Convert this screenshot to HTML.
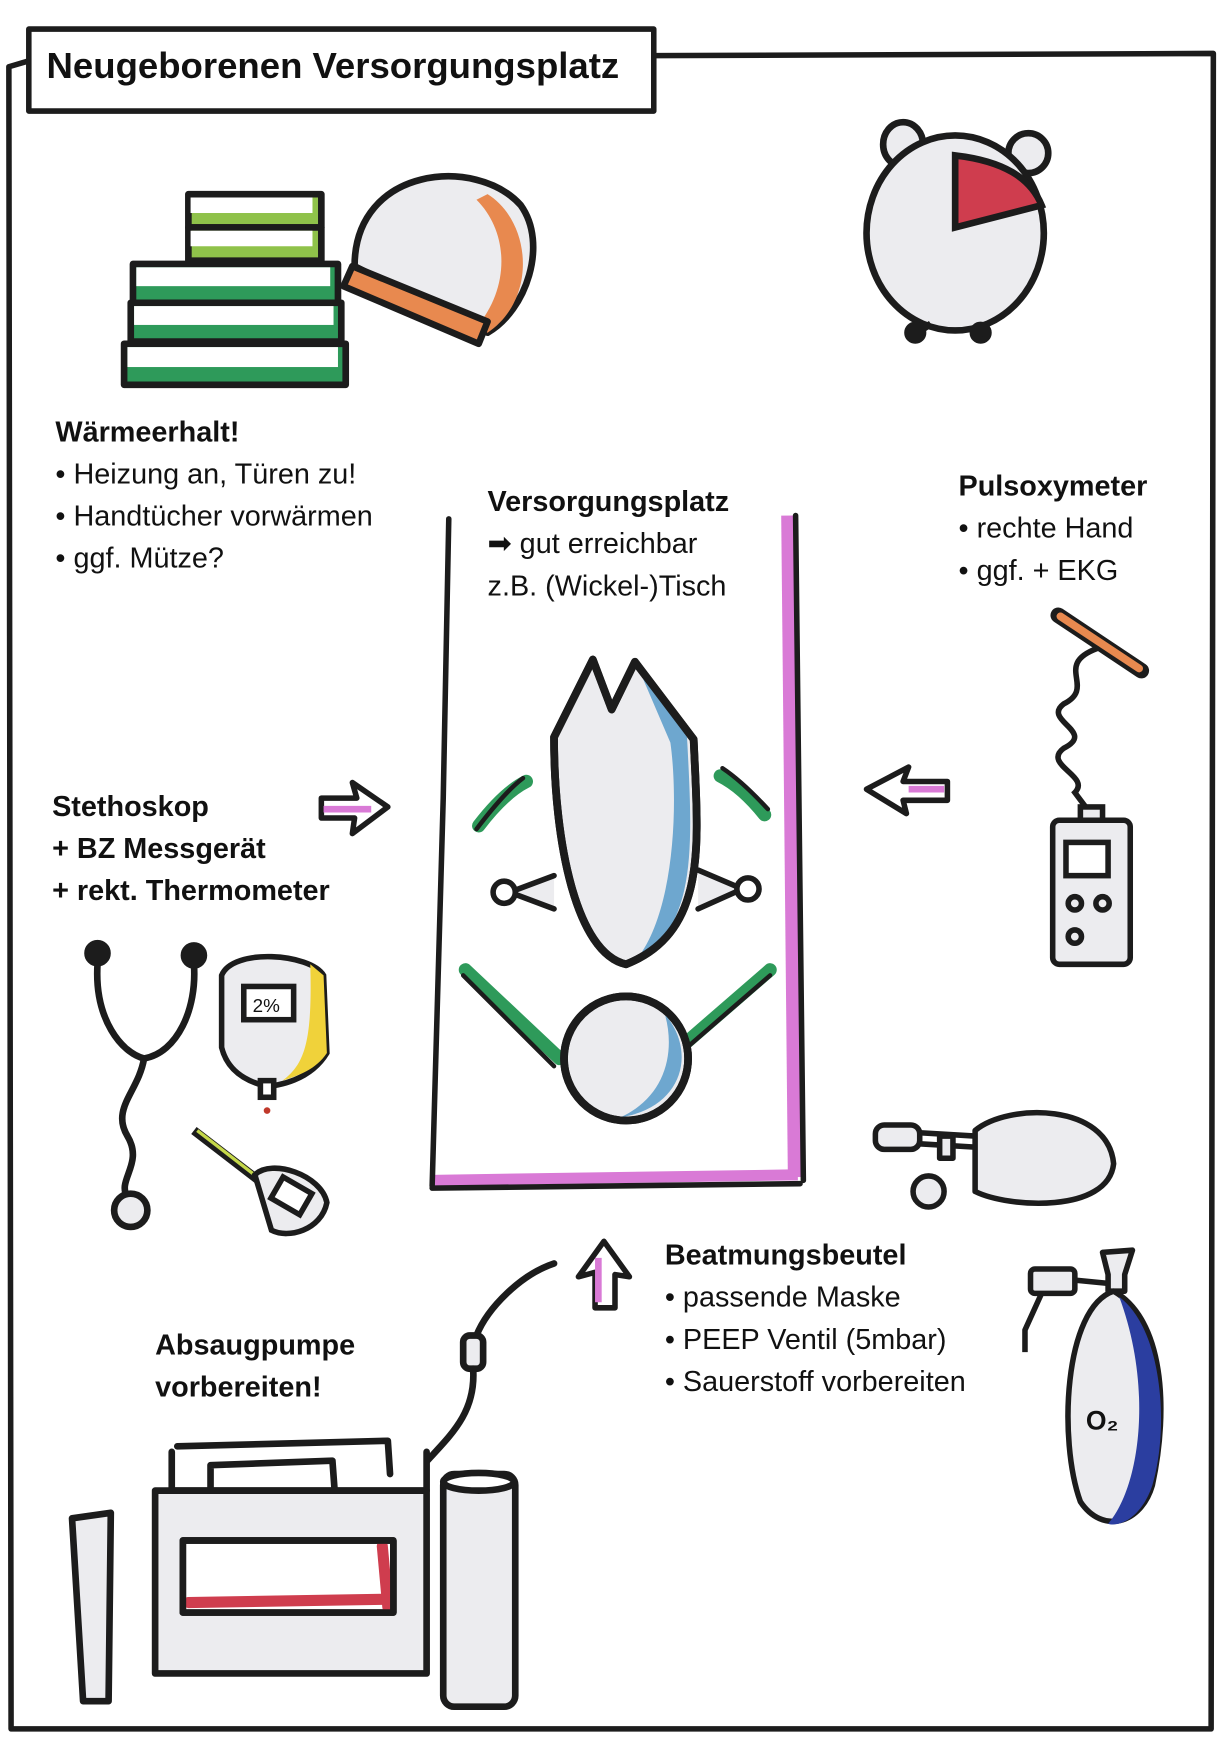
<!DOCTYPE html>
<html><head><meta charset="utf-8"><style>
html,body{margin:0;padding:0;background:#fff;width:1220px;height:1738px;overflow:hidden}
svg{display:block}
text{font-family:"Liberation Sans",sans-serif;fill:#111}
.b{font-weight:bold;font-size:26px}
.n{font-size:26px}
</style></head><body>
<svg width="1220" height="1738" viewBox="0 0 1101 1568" xmlns="http://www.w3.org/2000/svg">
<g fill="none" stroke="#1c1c1c" stroke-width="5" stroke-linecap="round" stroke-linejoin="round">
<path d="M25 55 L8 60 L10 1560 L1093 1560 L1095 48 L590 50"/>
<rect x="26" y="26" width="564" height="74" fill="#fff"/>
</g>
<text x="42" y="70" style="font-weight:bold;font-size:33px">Neugeborenen Versorgungsplatz</text>

<g stroke="#1c1c1c" stroke-width="6" stroke-linejoin="round">
<rect x="170" y="175" width="120" height="30" fill="#8fc24a"/><rect x="172" y="178" width="110" height="14" fill="#fff" stroke="none"/>
<rect x="170" y="205" width="120" height="30" fill="#8fc24a"/><rect x="172" y="208" width="110" height="14" fill="#fff" stroke="none"/>
<rect x="120" y="238" width="185" height="35" fill="#2e9a5a"/><rect x="123" y="241" width="175" height="17" fill="#fff" stroke="none"/>
<rect x="118" y="273" width="190" height="35" fill="#2e9a5a"/><rect x="121" y="276" width="180" height="17" fill="#fff" stroke="none"/>
<rect x="112" y="310" width="200" height="37" fill="#2e9a5a"/><rect x="115" y="313" width="190" height="18" fill="#fff" stroke="none"/>
<path d="M320 240 C 320 150 430 140 470 185 C 495 220 475 280 440 300 Z" fill="#ececef"/>
<path d="M440 175 C 480 200 485 270 440 300 L 430 295 C 460 260 460 210 430 180 Z" fill="#e8894f" stroke="none"/>
<path d="M318 240 L 440 290 L 432 310 L 310 258 Z" fill="#e8894f"/>
</g>
<g stroke="#1c1c1c" stroke-width="6">
<ellipse cx="815" cy="130" rx="18" ry="20" fill="#ececef"/>
<ellipse cx="928" cy="138" rx="18" ry="18" fill="#ececef"/>
<ellipse cx="862" cy="210" rx="80" ry="88" fill="#ececef"/>
<path d="M862 140 L862 205 L940 185 C930 160 905 145 862 140 Z" fill="#cf3d4e"/>
<path d="M840 292 L828 300 M880 292 L885 300" fill="none"/>
<circle cx="826" cy="300" r="7" fill="#1c1c1c"/><circle cx="885" cy="300" r="7" fill="#1c1c1c"/>
</g>

<text x="50" y="398" class="b">Wärmeerhalt!</text>
<text x="50" y="436" class="n">• Heizung an, Türen zu!</text>
<text x="50" y="474" class="n">• Handtücher vorwärmen</text>
<text x="50" y="512" class="n">• ggf. Mütze?</text>

<text x="440" y="461" class="b">Versorgungsplatz</text>
<text x="440" y="499" class="n">➡ gut erreichbar</text>
<text x="440" y="537" class="n">z.B. (Wickel-)Tisch</text>

<text x="865" y="447" class="b">Pulsoxymeter</text>
<text x="865" y="485" class="n">• rechte Hand</text>
<text x="865" y="523" class="n">• ggf. + EKG</text>

<text x="47" y="736" class="b">Stethoskop</text>
<text x="47" y="774" class="b">+ BZ Messgerät</text>
<text x="47" y="812" class="b">+ rekt. Thermometer</text>

<text x="600" y="1141" class="b">Beatmungsbeutel</text>
<text x="600" y="1179" class="n">• passende Maske</text>
<text x="600" y="1217" class="n">• PEEP Ventil (5mbar)</text>
<text x="600" y="1255" class="n">• Sauerstoff vorbereiten</text>

<text x="140" y="1222" class="b">Absaugpumpe</text>
<text x="140" y="1260" class="b">vorbereiten!</text>

<path d="M390 1065 L720 1060" stroke="#d97ad6" stroke-width="10" fill="none"/>
<path d="M712 465 L718 1062" stroke="#d97ad6" stroke-width="14" fill="none"/>
<g fill="none" stroke="#1c1c1c" stroke-width="5" stroke-linecap="round">
<path d="M405 468 L400 720 L390 1070"/>
<path d="M718 465 L725 1065"/>
<path d="M390 1072 L722 1068"/>
</g>
<g stroke="#1c1c1c" stroke-width="7" stroke-linecap="round" stroke-linejoin="round">
<path d="M432 745 Q455 715 475 705 M690 735 Q670 710 650 700" stroke="#2e9a5a" stroke-width="12" fill="none"/>
<path d="M430 748 Q455 715 472 702 M693 730 Q670 705 652 693" stroke="#1c1c1c" stroke-width="4" fill="none"/>
<path d="M500 790 L460 805 L500 820 M630 785 L670 802 L630 820" fill="#ececef" stroke-width="5"/>
<circle cx="455" cy="805" r="10" fill="#fff" stroke-width="5"/><circle cx="675" cy="802" r="10" fill="#fff" stroke-width="5"/>
<path d="M500 665 L535 595 L552 640 L573 597 L626 667 C630 760 640 840 565 870 C520 860 500 760 500 665 Z" fill="#ececef"/>
<path d="M575 600 L620 665 C625 760 630 835 575 865 C610 820 612 720 605 670 Z" fill="#6ea7cf" stroke="none"/>
<path d="M500 665 L535 595 L552 640 L573 597 L626 667 C630 760 640 840 565 870 C520 860 500 760 500 665 Z" fill="none"/>
<path d="M420 875 L505 955 M695 875 L620 940" stroke="#2e9a5a" stroke-width="12" fill="none"/>
<path d="M418 880 L500 962 M695 880 L620 945" stroke="#1c1c1c" stroke-width="4" fill="none"/>
<circle cx="565" cy="955" r="56" fill="#ececef"/>
<path d="M600 915 C630 950 615 1000 560 1008 C600 990 610 950 600 915 Z" fill="#6ea7cf" stroke="none"/>
<circle cx="565" cy="955" r="56" fill="none"/>
</g>

<g stroke="#1c1c1c" stroke-width="5" stroke-linejoin="round" fill="#fff">
<path d="M290 720 L322 720 L318 706 L350 728 L318 752 L320 738 L290 738 Z"/>
<path d="M292 730 L335 730" stroke="#d97ad6" stroke-width="6"/>
<path d="M855 705 L815 705 L820 692 L782 712 L818 734 L815 722 L855 722 Z"/>
<path d="M820 712 L852 712" stroke="#d97ad6" stroke-width="6"/>
<path d="M537 1180 L537 1148 L522 1152 L545 1120 L568 1152 L555 1150 L555 1180 Z"/>
<path d="M540 1135 L540 1175" stroke="#d97ad6" stroke-width="6"/>
</g>

<g stroke="#1c1c1c" stroke-width="5" fill="none" stroke-linecap="round">
<path d="M955 555 L1030 605" stroke-width="14"/><path d="M957 556 L1028 603" stroke="#e8894f" stroke-width="7"/>
<path d="M990 585 C950 600 990 620 960 635 C940 650 990 660 960 675 C940 690 985 700 970 715 L985 735"/>
<rect x="975" y="728" width="20" height="14" fill="#ececef"/>
<rect x="950" y="740" width="70" height="130" rx="6" fill="#ececef"/>
<rect x="962" y="760" width="38" height="30" fill="#fff"/>
<circle cx="970" cy="815" r="6"/><circle cx="995" cy="815" r="6"/><circle cx="970" cy="845" r="6"/>
</g>

<g stroke="#1c1c1c" stroke-width="6" fill="none" stroke-linecap="round">
<circle cx="88" cy="860" r="9" fill="#1c1c1c"/><circle cx="175" cy="862" r="9" fill="#1c1c1c"/>
<path d="M88 870 C85 920 110 950 130 955 C160 950 178 910 175 870"/>
<path d="M130 955 C125 985 100 1000 115 1025 C130 1050 105 1065 115 1080"/>
<circle cx="118" cy="1092" r="15" fill="#ececef"/>
</g>
<g stroke="#1c1c1c" stroke-width="5">
<path d="M200 880 C210 855 280 860 292 880 L295 950 C280 975 250 980 240 980 C220 975 205 965 200 945 Z" fill="#ececef"/>
<path d="M280 870 L292 880 L295 950 C285 965 270 970 255 975 C275 960 282 940 280 870 Z" fill="#f0d23a" stroke="none"/>
<rect x="220" y="890" width="45" height="30" fill="#fff"/>
<text x="228" y="913" style="font-size:17px" stroke="none">2%</text>
<rect x="235" y="975" width="12" height="15" fill="#fff"/>
<circle cx="241" cy="1002" r="3" fill="#c0392b" stroke="none"/>
</g>
<g stroke="#1c1c1c" stroke-width="5">
<path d="M175 1020 L240 1070" stroke-width="8"/>
<path d="M178 1020 L240 1068" stroke="#c5d84a" stroke-width="3"/>
<path d="M230 1060 C245 1045 290 1060 295 1085 C290 1110 260 1118 245 1110 Z" fill="#ececef"/>
<rect x="248" y="1068" width="30" height="22" fill="#fff" transform="rotate(30 263 1079)"/>
</g>

<g stroke="#1c1c1c" stroke-width="5" fill="#ececef" stroke-linejoin="round">
<rect x="790" y="1015" width="40" height="22" rx="8"/>
<path d="M830 1022 L880 1025 M830 1032 L880 1035" fill="none"/>
<rect x="848" y="1025" width="12" height="20"/>
<circle cx="838" cy="1075" r="14"/>
<path d="M880 1020 C910 995 1000 995 1005 1050 C1000 1095 910 1090 880 1075 Z"/>
</g>
<g stroke="#1c1c1c" stroke-width="5" stroke-linejoin="round">
<rect x="930" y="1145" width="40" height="22" rx="4" fill="#ececef"/>
<path d="M970 1155 L1000 1158 M940 1167 L925 1200 L925 1220" fill="none"/>
<path d="M995 1130 L1022 1128 L1015 1150 L1015 1165 L1000 1165 L1000 1150 Z" fill="#ececef"/>
<path d="M1005 1165 C960 1180 955 1300 975 1355 C995 1385 1030 1375 1040 1340 C1055 1270 1050 1190 1005 1165 Z" fill="#ececef"/>
<path d="M1010 1170 C1050 1200 1055 1290 1040 1340 C1030 1370 1010 1378 1000 1375 C1030 1340 1040 1250 1010 1170 Z" fill="#2b3ea0" stroke="none"/>
<text x="980" y="1290" style="font-size:24px;font-weight:bold" stroke="none">O₂</text>
</g>

<g stroke="#1c1c1c" stroke-width="6" stroke-linejoin="round" fill="none" stroke-linecap="round">
<path d="M500 1140 C470 1150 440 1180 430 1205"/>
<rect x="418" y="1205" width="18" height="30" rx="6" fill="#ececef"/>
<path d="M427 1235 C430 1280 400 1300 375 1330 C360 1360 330 1385 300 1390"/>
<path d="M155 1310 L155 1345 L385 1345 L385 1310" fill="#fff"/>
<path d="M160 1305 L350 1300 L352 1330"/>
<path d="M190 1345 L190 1322 L300 1318 L302 1345"/>
<rect x="140" y="1345" width="245" height="165" fill="#ececef"/>
<rect x="165" y="1390" width="190" height="65" fill="#fff"/>
<path d="M170 1446 L350 1443" stroke="#cf3d4e" stroke-width="10"/>
<path d="M345 1395 L350 1450" stroke="#cf3d4e" stroke-width="10"/>
<rect x="165" y="1390" width="190" height="65"/>
<path d="M65 1370 L100 1365 L98 1535 L75 1535 Z" fill="#ececef"/>
<rect x="400" y="1330" width="65" height="210" rx="10" fill="#ececef"/>
<ellipse cx="432" cy="1337" rx="32" ry="8" fill="#fff"/>
</g>
</svg>
</body></html>
